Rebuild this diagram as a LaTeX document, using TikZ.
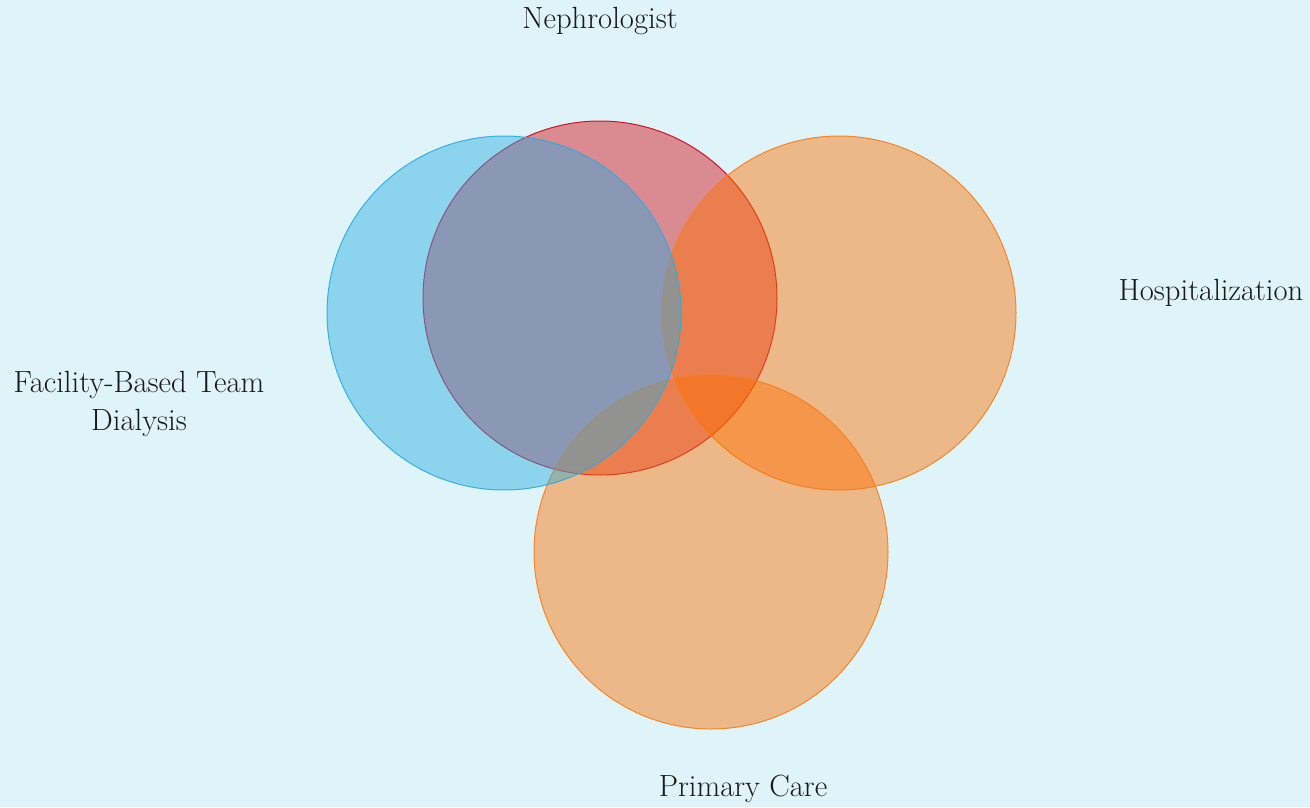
\documentclass[tikz,border=0pt]{standalone}
\usepackage{fontspec}
\definecolor{bgc}{RGB}{223,244,248}
\definecolor{bluec}{RGB}{41,171,226}
\definecolor{bluee}{RGB}{41,171,226}
\definecolor{redc}{RGB}{214,10,20}
\definecolor{rede}{RGB}{208,2,27}
\definecolor{orac}{RGB}{255,112,0}
\definecolor{orae}{RGB}{250,125,25}
\tikzset{
  venn/.style={circle, minimum size=265.5pt, inner sep=0pt, fill opacity=0.45, draw opacity=0.9, line width=0.75pt},
  lbl/.style={font=\fontsize{23}{28.5}\selectfont, text=black!90, align=center, inner sep=0pt}
}
\begin{document}
\begin{tikzpicture}[x=0.75pt,y=-0.75pt]
\fill[bgc] (0,0) rectangle (1310,807);
\useasboundingbox (0,0) rectangle (1310,807);
\node[venn, fill=redc, draw=rede] (neph) at (600,298) {};
\node[venn, fill=orac, draw=orae] (hosp) at (839,313) {};
\node[venn, fill=orac, draw=orae] (prim) at (711,552) {};
\node[venn, fill=bluec, draw=bluee] (fac) at (504,313) {};
\node[lbl] (tneph) at (600,21) {Nephrologist};
\node[lbl] (thosp) at (1211,293) {Hospitalization};
\node[lbl] (tfac) at (139,404) {Facility-Based Team\\Dialysis};
\node[lbl] (tprim) at (743,789) {Primary Care};
\end{tikzpicture}
\end{document}
